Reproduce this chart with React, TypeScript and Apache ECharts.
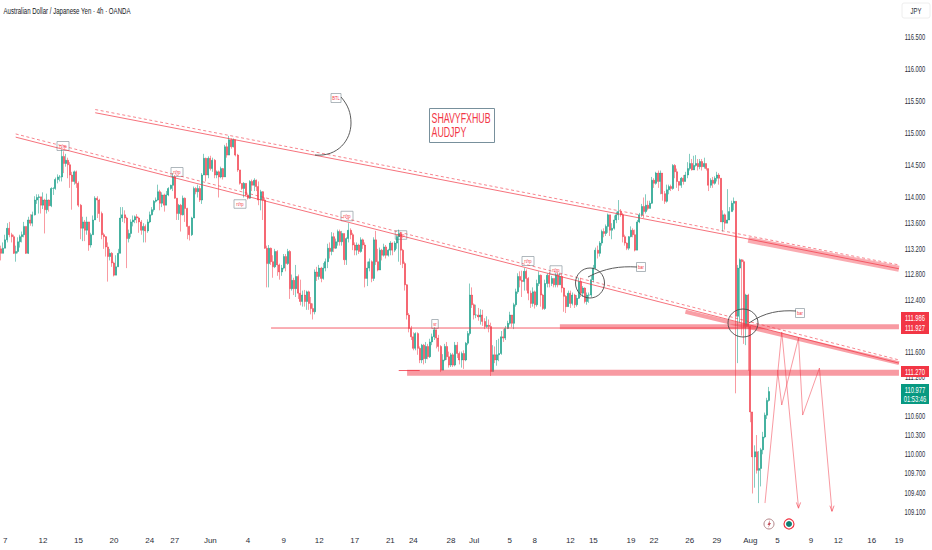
import React, { useEffect, useRef } from "react";
import * as echarts from "echarts";

const UP = "#089981";
const DOWN = "#f23645";
const FONT = '"Liberation Sans", sans-serif';

const closes = [
113.13,113.21,113.34,113.52,113.42,113.39,113.13,113.16,113.31,113.39,113.42,113.55,113.13,113.65,113.60,113.73,113.96,114.0,114.01,113.88,113.96,113.81,113.96,113.87,114.14,114.14,114.28,114.32,114.32,114.64,
114.53,114.58,114.51,114.35,114.25,114.40,114.22,113.88,113.52,113.62,113.49,113.62,113.26,113.42,113.65,113.99,113.96,113.75,113.42,113.39,113.23,113.08,113.13,112.98,112.79,112.92,113.13,113.68,
113.73,113.68,113.36,113.44,113.62,113.65,113.70,113.68,113.62,113.49,113.55,113.48,113.62,113.73,113.81,113.94,113.96,114.09,113.91,114.04,113.88,114.04,114.14,114.19,114.32,113.99,113.75,113.88,113.73,113.99,113.83,113.55,113.42,113.68,114.14,114.09,114.14,113.96,114.35,114.61,114.35,114.61,114.45,114.58,114.35,114.40,114.32,114.45,114.32,114.79,114.66,114.90,114.79,114.90,114.66,114.43,114.22,114.14,114.22,114.04,113.99,114.25,114.19,114.27,114.17,113.96,114.09,113.96,113.21,
112.97,113.21,113.0,112.92,113.16,112.95,112.84,112.90,113.08,112.97,113.16,112.58,112.71,112.58,112.77,112.51,112.38,112.48,112.38,112.53,112.35,112.27,112.22,112.84,112.77,112.90,112.74,112.90,113.0,113.21,113.16,113.39,113.21,113.31,113.47,113.31,113.44,113.03,113.36,113.49,113.42,113.26,113.18,113.26,113.16,113.34,113.26,112.74,112.90,113.0,112.74,113.34,113.0,112.87,113.18,113.10,113.23,113.10,113.18,113.29,113.18,113.29,113.39,113.44,113.18,112.97,112.64,112.17,111.96,111.83,111.65,111.88,111.65,111.47,111.70,111.49,111.68,111.52,111.75,111.83,111.94,111.81,111.68,111.31,111.47,111.68,111.52,111.39,111.55,111.39,111.70,111.57,111.47,111.57,111.47,111.73,111.88,112.48,112.33,112.17,112.17,112.14,112.17,112.07,111.99,112.01,111.99,111.29,111.55,111.47,111.55,111.57,111.83,111.81,111.96,112.04,112.17,112.04,112.33,112.53,112.77,112.71,112.69,
112.85,112.74,112.51,112.35,112.53,112.33,112.66,112.79,112.48,112.27,112.66,112.79,112.66,112.74,112.64,112.79,112.64,112.77,112.59,112.46,112.30,112.51,112.35,112.48,112.33,112.43,112.69,112.51,112.59,112.38,112.48,112.48,112.72,112.90,113.18,113.13,113.29,113.47,113.44,113.55,113.73,113.49,113.52,113.65,113.73,113.78,113.73,113.39,113.29,113.21,113.39,113.49,113.42,113.18,113.62,113.73,113.86,113.78,113.88,113.83,113.91,114.27,114.22,114.38,114.25,114.38,114.06,113.94,114.12,114.17,114.14,114.50,114.40,114.25,114.19,114.30,114.25,114.35,114.45,114.53,114.43,114.50,114.53,114.48,114.56,114.48,114.53,114.45,114.19,114.27,114.22,114.30,114.35,114.30,113.62,113.73,113.60,113.65,113.78,113.91,113.94,
112.15,112.90,113.03,113.0,111.99,112.48,111.99,110.66,109.96,110.04,109.75,109.78,110.07,110.27,110.61,110.84,110.977,
];

const highs = [
113.25,113.30,113.42,113.6,113.62,113.45,113.42,113.25,113.38,113.42,113.47,113.62,113.55,113.7,113.74,113.78,114.02,114.05,114.05,114.01,114.08,113.98,114.06,113.97,114.16,114.16,114.31,114.36,114.35,114.75,
114.72,114.68,114.62,114.55,114.4,114.42,114.42,114.25,113.9,113.7,113.65,113.7,113.6,113.45,113.72,114.02,114.02,113.98,113.78,113.45,113.4,113.3,113.2,113.15,113.0,113.1,113.2,113.85,
113.85,113.8,113.7,113.5,113.66,113.72,113.72,113.74,113.7,113.65,113.6,113.58,113.66,113.78,113.85,113.96,114.0,114.2,114.12,114.08,114.06,114.1,114.16,114.2,114.38,114.35,113.99,113.9,113.9,114.03,114.0,113.84,113.56,113.7,114.17,114.16,114.2,114.18,114.38,114.68,114.62,114.64,114.65,114.62,114.6,114.42,114.42,114.48,114.46,114.82,114.85,114.96,114.92,114.92,114.9,114.68,114.43,114.22,114.24,114.22,114.05,114.27,114.28,114.3,114.28,114.25,114.12,114.1,114.0,
113.25,113.26,113.22,113.1,113.2,113.18,112.97,112.95,113.12,113.12,113.2,113.18,112.8,112.75,112.95,112.8,112.72,112.55,112.56,112.55,112.55,112.45,112.35,112.88,112.92,112.95,112.92,112.98,113.05,113.28,113.3,113.46,113.45,113.36,113.5,113.5,113.48,113.4,113.38,113.6,113.52,113.45,113.3,113.3,113.28,113.38,113.36,113.3,113.0,113.05,113.02,113.38,113.48,113.2,113.22,113.2,113.28,113.26,113.2,113.32,113.3,113.32,113.42,113.5,113.46,113.2,113.0,112.65,112.2,112.0,111.9,111.9,111.9,111.68,111.72,111.72,111.75,111.72,111.8,111.88,111.98,111.92,111.86,111.7,111.56,111.72,111.75,111.6,111.58,111.58,111.75,111.75,111.6,111.6,111.62,111.75,111.92,112.66,112.6,112.35,112.33,112.28,112.26,112.25,112.12,112.15,112.1,112.05,111.7,111.68,111.78,111.8,111.92,111.95,112.0,112.08,112.22,112.15,112.36,112.58,112.82,112.85,112.86,
112.9,112.88,112.76,112.55,112.6,112.55,112.72,112.85,112.8,112.5,112.72,112.82,112.84,112.78,112.72,112.82,112.83,112.82,112.8,112.6,112.48,112.55,112.55,112.52,112.5,112.48,112.75,112.75,112.62,112.6,112.52,112.52,112.78,112.95,113.22,113.25,113.32,113.5,113.52,113.58,113.75,113.6,113.6,113.72,113.78,113.96,113.82,113.76,113.42,113.3,113.4,113.55,113.52,113.5,113.65,113.76,113.9,114.0,114.05,113.95,113.95,114.32,114.3,114.4,114.42,114.42,114.38,114.1,114.2,114.2,114.2,114.52,114.52,114.45,114.25,114.32,114.35,114.4,114.55,114.68,114.6,114.65,114.66,114.6,114.6,114.6,114.62,114.52,114.45,114.3,114.32,114.33,114.4,114.38,114.3,113.8,113.75,114.13,113.85,113.95,114.0,
113.94,112.95,113.05,113.04,113.03,112.5,112.5,112.0,110.66,110.14,110.3,110.05,110.1,110.35,110.65,110.88,111.05,
];

const lows = [
113.02,113.13,113.21,113.3,113.38,113.3,113.12,113.0,113.13,113.22,113.3,113.38,113.12,113.12,113.56,113.55,113.72,113.9,113.75,113.75,113.82,113.44,113.75,113.78,113.85,114.04,114.12,114.22,114.25,114.25,
114.38,114.48,114.3,114.15,113.81,114.2,114.15,113.85,113.35,113.32,113.32,113.42,113.17,113.22,113.42,113.7,113.68,113.62,113.35,113.2,113.08,112.69,113.02,112.92,112.77,112.82,113.0,113.13,
113.62,113.6,112.9,113.3,113.38,113.55,113.6,113.6,113.45,113.42,113.3,113.3,113.45,113.6,113.72,113.78,113.92,113.95,113.8,113.85,113.78,113.88,114.02,114.12,114.1,113.98,113.65,113.65,113.47,113.72,113.62,113.35,113.33,113.4,113.68,114.05,114.0,113.93,113.9,114.35,114.25,114.3,114.42,114.4,114.3,114.3,114.0,114.3,114.28,114.32,114.62,114.66,114.76,114.78,114.64,114.4,114.2,114.12,114.0,114.02,113.97,113.98,114.1,114.1,114.1,113.88,113.8,113.65,113.2,
112.6,112.6,112.95,112.75,112.9,112.78,112.72,112.78,112.88,112.85,112.95,112.42,112.55,112.48,112.45,112.42,112.32,112.3,112.3,112.25,112.25,112.18,112.1,112.18,112.7,112.72,112.68,112.72,112.85,112.9,113.05,113.1,113.15,113.2,113.25,113.25,113.25,112.95,112.95,113.3,113.35,113.18,113.1,113.1,113.12,113.14,113.2,112.6,112.62,112.85,112.68,112.7,112.95,112.85,112.87,113.02,113.08,113.05,113.08,113.1,113.1,113.15,113.2,113.0,112.95,112.9,112.55,112.1,111.9,111.78,111.62,111.62,111.55,111.42,111.42,111.4,111.42,111.48,111.5,111.7,111.78,111.65,111.6,111.28,111.35,111.45,111.47,111.35,111.36,111.36,111.37,111.5,111.4,111.35,111.33,111.45,111.7,111.85,112.28,112.1,112.12,112.08,112.02,112.0,111.95,111.97,111.9,111.22,111.3,111.42,111.38,111.45,111.55,111.75,111.78,111.95,112.02,111.98,111.95,112.3,112.5,112.6,112.45,
112.55,112.55,112.4,112.28,112.3,112.27,112.3,112.62,112.3,112.25,112.25,112.6,112.6,112.62,112.6,112.6,112.6,112.65,112.52,112.22,112.2,112.3,112.28,112.32,112.28,112.3,112.42,112.45,112.45,112.35,112.33,112.36,112.45,112.68,112.88,113.05,113.08,113.25,113.38,113.4,113.45,113.4,113.35,113.5,113.6,113.65,113.7,113.3,113.25,113.18,113.18,113.38,113.38,113.16,113.18,113.6,113.7,113.68,113.75,113.8,113.84,113.9,114.15,114.2,114.15,114.05,113.95,113.9,113.92,114.05,114.1,114.12,114.3,114.15,114.1,114.15,114.2,114.28,114.3,114.42,114.42,114.44,114.48,114.42,114.44,114.42,114.45,114.42,114.1,114.15,114.15,114.2,114.25,114.2,113.62,113.47,113.5,113.6,113.72,113.78,113.8,
110.95,111.42,112.05,111.85,111.72,111.7,111.3,110.5,109.39,109.48,109.7,109.24,109.5,110.0,110.25,110.55,110.82,
];

const firstOpen = 113.2;
const barCount = 430;

const xTickIndex = [2,20,37,54,71,83,100,118,135,152,169,186,197,215,226,243,255,272,283,301,312,329,342,358,371,387,400,416,429];
const xTickText = ["7","12","15","20","24","27","Jun","4","9","12","17","21","24","28","Jul","5","8","12","15","19","22","26","29","Aug","5","9","12","16","19"];
const yTicks = [116.5,116,115.5,115,114.5,114,113.6,113.2,112.8,112.4,111.6,111.2,110.6,110.3,110,109.7,109.4,109.1];

// Drawings as [bar index, price]
const upperSolid = [[45,115.32],[356,113.36],[429,112.89]];
const upperDashed = [[45,115.37],[356,113.41],[429,112.95]];
const upperBand = [[357,113.34],[429,112.89]];
const lowerSolid = [[7,114.94],[429,111.42]];
const lowerDashed = [[7,114.99],[429,111.47]];
const lowerBand = [[327,112.22],[429,111.42]];
const thinLevel = [[129,111.967],[356,111.967]];
const topLevel = [[267,111.986],[429,111.986]];
const bottomLevelThin = [[190,111.305],[200,111.305]];
const bottomLevel = [[194,111.27],[429,111.27]];
const pathOne = [[365,109.241],[373,111.905],[381,109.171]];
const pathTwo = [[371,111.313],[373,110.768],[381,111.812],[383,110.612],[391,111.344],[397,109.117]];
const arrowOne = [[380,109.25],[381,109.16],[382,109.25]];
const arrowTwo = [[396,109.2],[397,109.11],[398,109.2]];

const opens = closes.map((_, i) => (i === 0 ? firstOpen : closes[i - 1]));
const candles = closes.map((c, i) => {
  const o = opens[i];
  return [o, c, Math.min(lows[i], o, c), Math.max(highs[i], o, c)];
});
const categories = Array.from({ length: barCount }, (_, i) => {
  const k = xTickIndex.indexOf(i);
  return k >= 0 ? xTickText[k] : "";
});

const drawLine = (data: number[][], width: number, opacity: number, type: any = "solid") => ({
  type: "line",
  data,
  symbol: "none",
  silent: true,
  lineStyle: { color: DOWN, width, opacity, type },
  z: 5,
});

const miniLabel = (cx: number, cy: number, w: number, h: number, text: string) => ({
  type: "group",
  z: 20,
  children: [
    { type: "rect", shape: { x: cx - w / 2, y: cy - h / 2, width: w, height: h }, style: { fill: "#ffffff", stroke: "#9aa5ab", lineWidth: 0.8 } },
    { type: "text", x: cx, y: cy, scaleX: 0.68, style: { text, fill: DOWN, fontSize: 6, fontFamily: FONT, textAlign: "center", textVerticalAlign: "middle" } },
  ],
});

const priceBox = (y: number, h: number, fill: string) => ({
  type: "rect", z: 30, shape: { x: 901, y, width: 28, height: h }, style: { fill },
});
const priceText = (y: number, text: string) => ({
  type: "text", z: 31, x: 915, y, scaleX: 0.68,
  style: { text, fill: "#ffffff", fontSize: 8.5, fontFamily: FONT, textAlign: "center", textVerticalAlign: "middle" },
});
const curve = (x1: number, y1: number, cpx1: number, cpy1: number, cpx2: number, cpy2: number, x2: number, y2: number) => ({
  type: "bezierCurve", z: 18, shape: { x1, y1, cpx1, cpy1, cpx2, cpy2, x2, y2 }, style: { stroke: "#4a4a4a", lineWidth: 0.9, fill: "none" },
});

export default function App() {
  const ref = useRef<HTMLDivElement>(null);
  useEffect(() => {
    document.body.style.margin = "0";
    const chart = echarts.init(ref.current!, null, { renderer: "svg" });
    chart.setOption({
      animation: false,
      backgroundColor: "#ffffff",
      grid: { left: 0, right: 32, top: 0, height: 525, outerBoundsMode: "none" },
      xAxis: {
        type: "category",
        data: categories,
        boundaryGap: true,
        axisLine: { show: false },
        axisTick: { show: false },
        splitLine: { show: false },
        axisLabel: {
          interval: (_: number, v: string) => v !== "",
          margin: 11,
          fontSize: 8,
          fontFamily: FONT,
          color: "#2a2e39",
        },
      },
      yAxis: {
        type: "value",
        position: "right",
        min: 108.899,
        max: 117.076,
        axisLine: { show: false },
        axisTick: { show: false },
        splitLine: { show: false },
        axisLabel: { show: false },
      },
      series: [
        {
          type: "candlestick",
          data: candles,
          barWidth: 1.5,
          silent: true,
          z: 3,
          itemStyle: { color: UP, color0: DOWN, borderColor: UP, borderColor0: DOWN, borderWidth: 0.5 },
        },
        drawLine(upperBand, 6, 0.42),
        drawLine(lowerBand, 4, 0.48),
        drawLine(topLevel, 5, 0.5),
        drawLine(bottomLevel, 6, 0.5),
        drawLine(upperSolid, 1, 0.7),
        drawLine(upperDashed, 1, 0.6, [3, 2.5]),
        drawLine(lowerSolid, 1, 0.7),
        drawLine(lowerDashed, 1, 0.6, [3, 2.5]),
        drawLine(thinLevel, 1, 0.8),
        drawLine(bottomLevelThin, 1, 0.8),
        drawLine(pathOne, 1, 0.5),
        drawLine(pathTwo, 1, 0.5),
        drawLine(arrowOne, 1, 0.6),
        drawLine(arrowTwo, 1, 0.6),
      ],
    });
    const yLabels = yTicks.map((v) => ({
      type: "text",
      z: 10,
      x: 915,
      y: chart.convertToPixel({ yAxisIndex: 0 }, v),
      scaleX: 0.68,
      style: { text: v.toFixed(3), fill: "#2a2e39", fontSize: 8.5, fontFamily: FONT, textAlign: "center", textVerticalAlign: "middle" },
    }));
    chart.setOption({
      graphic: [
        ...yLabels,
        { type: "text", z: 40, x: 3.5, y: 11, scaleX: 0.64, style: { text: "Australian Dollar / Japanese Yen \u00b7 4h \u00b7 OANDA", fill: "#131722", fontSize: 9.5, fontFamily: FONT, textVerticalAlign: "middle" } },
        { type: "rect", z: 40, shape: { x: 902, y: 3, width: 28, height: 15, r: 2 }, style: { fill: "#ffffff", stroke: "#eeeeee", lineWidth: 1 } },
        { type: "text", z: 41, x: 916, y: 11, scaleX: 0.7, style: { text: "JPY", fill: "#2a2e39", fontSize: 8.5, fontFamily: FONT, textAlign: "center", textVerticalAlign: "middle" } },

        { type: "rect", z: 20, shape: { x: 429.5, y: 108.5, width: 65, height: 34 }, style: { fill: "#ffffff", stroke: "#78909c", lineWidth: 1 } },
        { type: "text", z: 21, x: 431.5, y: 118, scaleX: 0.63, style: { text: "SHAVYFXHUB", fill: DOWN, fontSize: 14, fontFamily: FONT, textVerticalAlign: "middle" } },
        { type: "text", z: 21, x: 431.5, y: 132, scaleX: 0.63, style: { text: "AUDJPY", fill: DOWN, fontSize: 14, fontFamily: FONT, textVerticalAlign: "middle" } },

        { type: "ellipse", z: 18, shape: { cx: 590, cy: 283, rx: 14.5, ry: 15 }, style: { stroke: "#4a4a4a", lineWidth: 0.9, fill: "none" } },
        { type: "ellipse", z: 18, shape: { cx: 743, cy: 323, rx: 15, ry: 14 }, style: { stroke: "#4a4a4a", lineWidth: 0.9, fill: "none" } },
        curve(588, 277, 605, 268, 620, 266, 637, 267),
        curve(749, 323, 765, 312, 780, 310, 796, 311),
        curve(341, 97, 348, 105, 351, 113, 351, 123),
        curve(351, 123, 351, 140, 338, 157, 315, 155),

        miniLabel(336, 98, 10, 9, "BTL"),
        miniLabel(63, 146, 12, 9, "rt/rp"),
        miniLabel(177, 172, 12, 9, "rt/rp"),
        miniLabel(240, 204, 12, 8.5, "rt/rp"),
        miniLabel(347, 216, 12, 9.5, "rt/rp"),
        miniLabel(401, 235, 11.5, 8.5, "rt/rp"),
        miniLabel(435, 324, 6.5, 9, "sr"),
        miniLabel(528, 261, 12, 9, "rt/rp"),
        miniLabel(556, 270, 12, 8.5, "rt/rp"),
        miniLabel(641, 267, 9, 9, "bar"),
        miniLabel(800, 313, 9, 9, "bar"),

        priceBox(312, 22, DOWN),
        priceText(318, "111.986"),
        priceText(328, "111.927"),
        priceBox(366, 11, DOWN),
        priceText(372, "111.270"),
        priceBox(384, 20, UP),
        priceText(390, "110.977"),
        priceText(399, "01:53:46"),

        { type: "circle", z: 20, shape: { cx: 769, cy: 524, r: 5 }, style: { fill: "#ffffff", stroke: "#a9777c", lineWidth: 0.9 } },
        { type: "polygon", z: 21, shape: { points: [[770, 520], [767.5, 525], [769, 525], [768, 528], [771, 523], [769.5, 523]] }, style: { fill: "#c2505c" } },
        { type: "circle", z: 20, shape: { cx: 789, cy: 524, r: 5 }, style: { fill: "#ffffff", stroke: DOWN, lineWidth: 1.2 } },
        { type: "circle", z: 21, shape: { cx: 789, cy: 524, r: 3 }, style: { fill: "#0e7f72" } },
      ],
    });
    return () => chart.dispose();
  }, []);
  return <div ref={ref} style={{ position: "fixed", left: 0, top: 0, width: 932, height: 550 }} />;
}
